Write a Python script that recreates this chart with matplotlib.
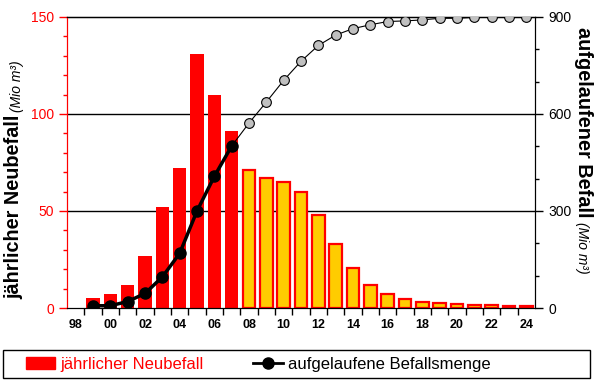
import matplotlib.pyplot as plt
import numpy as np
from matplotlib.lines import Line2D
from matplotlib.patches import Patch, Rectangle

plt.rcParams['font.family'] = ['Liberation Sans', 'DejaVu Sans']

years = list(range(1998, 2025))
tick_labels = ['%02d' % (y % 100) if y % 2 == 0 else '' for y in years]

# jaehrlicher Neubefall (Mio m3), 1998 ohne Wert
neubefall = [0, 5, 7, 12, 27, 52, 72, 131, 110, 91,
             71, 67, 65, 60, 48, 33, 20.5, 12, 7, 4.5,
             3, 2.4, 1.9, 1.4, 1.4, 1.0, 1.0]
n_observed = 10  # 1998..2007 gemessen, danach Prognose

# aufgelaufene Befallsmenge (Mio m3)
cum_years_obs = list(range(1999, 2008))
cum_obs = [7, 7, 20, 45, 96, 169, 300, 407, 501]
cum_years_fc = list(range(2007, 2025))
cum_fc = [501, 572, 637, 704, 763, 812, 844, 864, 876, 886,
          888, 891, 896, 896, 899, 899, 901, 901]

fig = plt.figure(figsize=(5.95, 3.82), dpi=100)
ax = fig.add_axes([67/595, 1 - 308/382, 468/595, 291/382])
ax2 = ax.twinx()

x = np.arange(len(years))
for i, v in enumerate(neubefall):
    if v == 0:
        continue
    if i < n_observed:
        ax.bar(x[i], v, width=0.77, color='#ff0000', edgecolor='none', zorder=2)
    else:
        ax.bar(x[i], v, width=0.72, color='#ffcc00', edgecolor='#ff0000',
               linewidth=1.6, zorder=2)

ax.set_xlim(-0.5, len(years) - 0.5)
ax.set_ylim(0, 150)
ax.set_yticks([0, 50, 100, 150])
ax.set_yticks(np.arange(0, 151, 10), minor=True)
for y in [50, 100]:
    ax.axhline(y, color='black', lw=1, zorder=1)
ax.tick_params(axis='y', colors='#ff0000', labelsize=10, length=6, width=1)
ax.tick_params(axis='y', which='minor', colors='#ff0000', length=3, width=1)
ax.spines['left'].set_color('#ff0000')
ax.spines['top'].set_linewidth(1)

ax.set_xticks(x)
ax.set_xticklabels(tick_labels, fontweight='bold', fontsize=9)
ax.tick_params(axis='x', which='major', length=0, pad=8)
ax.set_xticks(x[:-1] + 0.5, minor=True)
ax.tick_params(axis='x', which='minor', length=5, width=1)

# kumulierte Menge auf der rechten Achse
yi_obs = [years.index(y) for y in cum_years_obs]
yi_fc = [years.index(y) for y in cum_years_fc]
ax2.plot(yi_fc, cum_fc, color='black', lw=0.8, marker='o', markersize=7,
         markerfacecolor='#c0c0c0', markeredgecolor='black', markeredgewidth=0.8, zorder=3)
ax2.plot(yi_obs, cum_obs, color='black', lw=2.5, marker='o', markersize=8,
         markerfacecolor='black', zorder=4)
ax2.set_ylim(0, 900)
ax2.set_yticks([0, 300, 600, 900])
ax2.set_yticks(np.arange(0, 901, 100), minor=True)
ax2.tick_params(axis='y', labelsize=10, length=6, width=1)
ax2.tick_params(axis='y', which='minor', length=3, width=1)
ax2.spines['left'].set_color('#ff0000')

# Achsentitel: fetter Teil, kursive Einheit direkt dahinter
t1 = fig.text(14/595, 1 - 299/382, 'jährlicher Neubefall', rotation=90, fontsize=14.3,
              fontweight='bold', ha='center', va='bottom')
t2 = fig.text(583/595, 1 - 27/382, 'aufgelaufener Befall', rotation=-90, fontsize=14.3,
              fontweight='bold', ha='center', va='top')
r = fig.canvas.get_renderer()
b1 = t1.get_window_extent(r)
b2 = t2.get_window_extent(r)
fig.text(17/595, (b1.y1 + 3) / fig.bbox.height, '(Mio m³)', rotation=90, fontsize=10,
         fontstyle='italic', ha='center', va='bottom')
fig.text(582/595, (b2.y0 - 5) / fig.bbox.height, '(Mio m³)', rotation=-90, fontsize=10,
         fontstyle='italic', ha='center', va='top')

# Legende unten
fig.patches.append(Rectangle((3/595, 4/382), 587/595, 28/382, transform=fig.transFigure,
                             facecolor='white', edgecolor='black', linewidth=1))
handles = [Patch(color='#ff0000'),
           Line2D([0], [0], color='black', lw=2, marker='o', markersize=8)]
leg = fig.legend(handles, ['jährlicher Neubefall', 'aufgelaufene Befallsmenge'],
                 loc='center left', bbox_to_anchor=(26/595, 18/382),
                 ncol=2, fontsize=12, frameon=False, borderaxespad=0, borderpad=0,
                 handlelength=1.75, handleheight=0.7, handletextpad=0.3,
                 columnspacing=3.0)
leg.get_texts()[0].set_color('#ff0000')

fig.savefig('out.png', dpi=100)
